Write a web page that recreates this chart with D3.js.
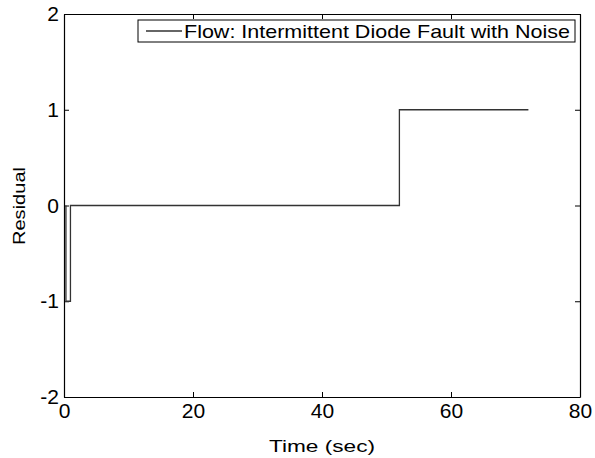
<!DOCTYPE html>
<html><head><meta charset="utf-8">
<script src="https://cdn.jsdelivr.net/npm/d3@7"></script>
<style>body{margin:0;background:#fff}svg{display:block}text{font-family:"Liberation Sans",Arial,sans-serif}</style>
</head><body><svg id="c" width="595" height="458"></svg>
<script>
const timeSec = [0.3, 0.3, 1, 1, 52, 52, 72];
const residual = [0, -1, -1, 0, 0, 1, 1];
const xTicks = [0, 20, 40, 60, 80];
const yTicks = [-2, -1, 0, 1, 2];
const seriesName = "Flow: Intermittent Diode Fault with Noise";

const svg = d3.select("#c");
const L = 64, R = 580, T = 14, B = 397;
const x = d3.scaleLinear().domain([0, 80]).range([L, R]);
const y = d3.scaleLinear().domain([-2, 2]).range([B, T]);
const fmt = d => String(d);

const fs = 21;
const gx = svg.append("g").attr("transform", `translate(0,${B})`)
  .call(d3.axisBottom(x).tickValues(xTicks).tickFormat(fmt).tickSizeInner(-5).tickSizeOuter(0).tickPadding(8));
const gxt = svg.append("g").attr("transform", `translate(0,${T})`)
  .call(d3.axisTop(x).tickValues(xTicks).tickSizeInner(-5).tickSizeOuter(0).tickFormat(""));
const gy = svg.append("g").attr("transform", `translate(${L},0)`)
  .call(d3.axisLeft(y).tickValues(yTicks).tickFormat(fmt).tickSizeInner(-5).tickSizeOuter(0).tickPadding(8));
const gyr = svg.append("g").attr("transform", `translate(${R},0)`)
  .call(d3.axisRight(y).tickValues(yTicks).tickSizeInner(-5).tickSizeOuter(0).tickFormat(""));
[gx, gxt, gy, gyr].forEach(g => {
  g.attr("font-size", fs).attr("font-family", '"Liberation Sans",Arial,sans-serif');
  g.select(".domain").attr("stroke", "#000").attr("stroke-width", 1.2);
  g.selectAll(".tick line").attr("stroke", "#000");
  g.selectAll("text").attr("fill", "#000");
});
gx.selectAll("text").attr("dy", "0.75em").attr("y", 5);
gy.selectAll("text").attr("x", -5);

const pts = timeSec.map((t, i) => [t, residual[i]]);
svg.append("path").datum(pts)
  .attr("fill", "none").attr("stroke", "#333").attr("stroke-width", 1.3)
  .attr("d", d3.line().x(d => x(d[0])).y(d => y(d[1])));

svg.append("text").attr("x", (L + R) / 2 - 53).attr("y", 452)
  .attr("font-size", 17).attr("textLength", 106).attr("lengthAdjust", "spacingAndGlyphs").text("Time (sec)");
svg.append("text").attr("transform", `translate(25,${206 + 39}) rotate(-90)`)
  .attr("font-size", 17).attr("textLength", 78).attr("lengthAdjust", "spacingAndGlyphs").text("Residual");

const lg = svg.append("g");
lg.append("rect").attr("x", 138).attr("y", 20).attr("width", 437).attr("height", 22)
  .attr("fill", "#fff").attr("stroke", "#000").attr("stroke-width", 1);
lg.append("line").attr("x1", 146).attr("x2", 182).attr("y1", 31).attr("y2", 31)
  .attr("stroke", "#333").attr("stroke-width", 1.3);
lg.append("text").attr("x", 184).attr("y", 38).attr("font-size", 19)
  .attr("textLength", 386).attr("lengthAdjust", "spacingAndGlyphs").text(seriesName);
</script></body></html>
